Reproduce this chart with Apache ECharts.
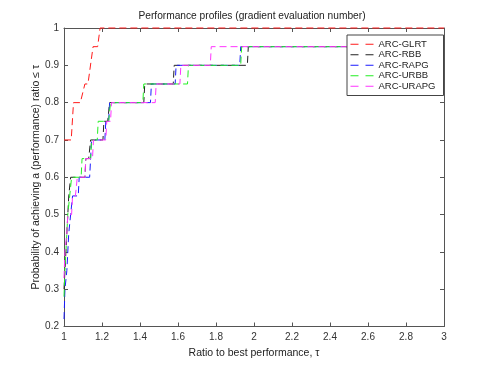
<!DOCTYPE html>
<html>
<head>
<meta charset="utf-8">
<script src="https://cdn.jsdelivr.net/npm/echarts@6/dist/echarts.min.js"></script>
<style>
html,body{margin:0;padding:0;background:#fff;}
#chart{width:491px;height:368px;}
</style>
</head>
<body>
<div id="chart"></div>
<script>
var seriesNames = ['ARC-GLRT','ARC-RBB','ARC-RAPG','ARC-URBB','ARC-URAPG'];
var seriesColors = ['#ff1a1a','#222222','#1a1aff','#22ee22','#ff33ff'];
var xTicks = [1, 3, 0.2];
var yTicks = [0.2, 1, 0.1];

var glrt = [[1,0.7],[1.038,0.7],[1.05,0.8],[1.086,0.8],[1.11,0.85],[1.126,0.85],[1.153,0.95],[1.177,0.95],[1.19,1],[3,1]];
var rbb = [[1,0.3],[1.005,0.35],[1.01,0.4],[1.02,0.5],[1.025,0.55],[1.035,0.6],[1.11,0.6],[1.115,0.65],[1.13,0.65],[1.14,0.7],[1.205,0.7],[1.21,0.75],[1.23,0.75],[1.24,0.8],[1.42,0.8],[1.425,0.85],[1.575,0.85],[1.58,0.9],[1.965,0.9],[1.97,0.95],[3,0.95]];
var rapg = [[1,0.22],[1.005,0.3],[1.015,0.35],[1.025,0.45],[1.035,0.5],[1.045,0.55],[1.075,0.55],[1.08,0.6],[1.135,0.6],[1.145,0.7],[1.215,0.7],[1.22,0.75],[1.235,0.75],[1.24,0.8],[1.455,0.8],[1.46,0.85],[1.585,0.85],[1.59,0.9],[1.925,0.9],[1.93,0.95],[3,0.95]];
var urbb = [[1,0.28],[1.005,0.35],[1.015,0.45],[1.02,0.5],[1.03,0.55],[1.04,0.6],[1.09,0.6],[1.095,0.65],[1.14,0.65],[1.145,0.7],[1.175,0.7],[1.18,0.75],[1.235,0.75],[1.245,0.8],[1.415,0.8],[1.42,0.85],[1.65,0.85],[1.655,0.9],[1.93,0.9],[1.935,0.95],[3,0.95]];
var urapg = [[1,0.33],[1.005,0.4],[1.015,0.45],[1.02,0.5],[1.04,0.5],[1.045,0.55],[1.06,0.55],[1.07,0.6],[1.11,0.6],[1.115,0.65],[1.15,0.65],[1.155,0.7],[1.22,0.7],[1.225,0.75],[1.245,0.75],[1.25,0.8],[1.48,0.8],[1.485,0.85],[1.61,0.85],[1.615,0.9],[1.77,0.9],[1.775,0.95],[3,0.95]];
var allData = [glrt, rbb, rapg, urbb, urapg];

var FONT = 'Liberation Sans';
var axisCol = '#555';

function xAx(pos, showLabel) {
  return {
    type: 'value', position: pos, min: xTicks[0], max: xTicks[1], interval: xTicks[2],
    axisLine: {show: true, onZero: false, lineStyle: {color: axisCol, width: 1}},
    axisTick: {show: true, inside: true, length: 4, lineStyle: {color: axisCol}},
    axisLabel: {show: showLabel, color: '#333', fontSize: 10, fontFamily: FONT, margin: 6},
    splitLine: {show: false},
    name: showLabel ? 'Ratio to best performance, \u03c4' : '',
    nameLocation: 'middle', nameGap: 20,
    nameTextStyle: {color: '#222', fontSize: 10.5, fontFamily: FONT}
  };
}
function yAx(pos, showLabel) {
  return {
    type: 'value', position: pos, min: yTicks[0], max: yTicks[1], interval: yTicks[2],
    axisLine: {show: true, onZero: false, lineStyle: {color: axisCol, width: 1}},
    axisTick: {show: true, inside: true, length: 4, lineStyle: {color: axisCol}},
    axisLabel: {show: showLabel, color: '#333', fontSize: 10, fontFamily: FONT, margin: 5},
    splitLine: {show: false},
    name: showLabel ? 'Probability of achieving a (performance) ratio \u2264 \u03c4' : '',
    nameLocation: 'middle', nameGap: 22, nameMoveOverlap: false,
    nameTextStyle: {color: '#222', fontSize: 10.5, fontFamily: FONT}
  };
}

var series = seriesNames.map(function (n, i) {
  return {
    name: n, type: 'line', data: allData[i], xAxisIndex: 0, yAxisIndex: 0,
    symbol: 'none', animation: false, clip: false, zlevel: 1, z: 5,
    lineStyle: {color: seriesColors[i], width: 1, type: [7, 4]},
    itemStyle: {color: seriesColors[i]}
  };
});

var chart = echarts.init(document.getElementById('chart'), null, {renderer: 'canvas'});
chart.setOption({
  animation: false,
  backgroundColor: '#fff',
  title: {
    text: 'Performance profiles (gradient evaluation number)',
    left: 247, top: 6, textAlign: 'center',
    textStyle: {color: '#222', fontSize: 10.2, fontWeight: 'normal', fontFamily: FONT}
  },
  grid: {left: 64, right: 47, top: 28, bottom: 41.5, containLabel: false},
  xAxis: [xAx('bottom', true), xAx('top', false)],
  yAxis: [yAx('left', true), yAx('right', false)],
  legend: {
    data: seriesNames, orient: 'vertical', left: 347, top: 35,
    itemWidth: 23, itemHeight: 8, itemGap: 0,
    backgroundColor: '#fff', borderColor: '#444', borderWidth: 1,
    padding: [4, 8, 4, 3], zlevel: 2, z: 10,
    itemStyle: {color: 'rgba(0,0,0,0)', borderWidth: 0, opacity: 0},
    lineStyle: {type: [8, 7], width: 1},
    textStyle: {color: '#222', fontSize: 9.5, lineHeight: 10.5, fontFamily: FONT}
  },
  series: series
});
</script>
</body>
</html>
